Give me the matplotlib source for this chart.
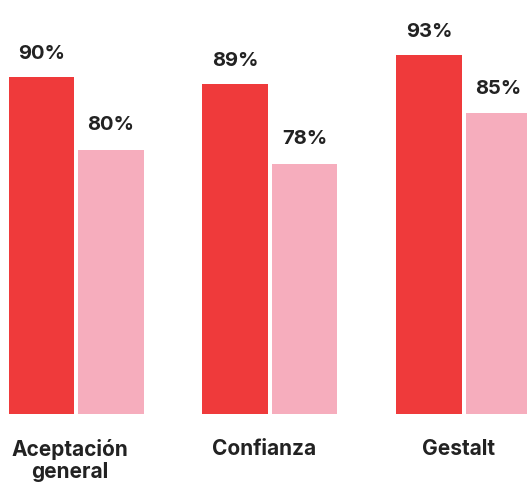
import numpy as np
import matplotlib
matplotlib.use('Agg')
import matplotlib.pyplot as plt

# data
categories = ['Aceptación\ngeneral', 'Confianza', 'Gestalt']
values_a = [90, 89, 93]   # red series
values_b = [80, 78, 85]   # pink series
labels_a = [f'{v}%' for v in values_a]
labels_b = [f'{v}%' for v in values_b]

RED = '#EF3A3B'
PINK = '#F6ADBD'
TEXT = '#222222'

plt.rcParams['font.family'] = ['Inter', 'DejaVu Sans']

fig = plt.figure(figsize=(5.27, 4.85), dpi=100)
ax = fig.add_axes([0.0, 0.1443, 1.0, 0.8443])

x = np.arange(len(categories))
width = 0.34
offset = 0.178

bars_a = ax.bar(x - offset, values_a, width, color=RED, zorder=2)
bars_b = ax.bar(x + offset, values_b, width, color=PINK, zorder=2)

for bar, lab in zip(bars_a, labels_a):
  ax.annotate(lab, (bar.get_x() + bar.get_width() / 2, bar.get_height()),
              xytext=(0, 13.7), textcoords='offset points',
              ha='center', va='baseline', fontsize=14.5, fontweight='bold', color=TEXT)
for bar, lab in zip(bars_b, labels_b):
  ax.annotate(lab, (bar.get_x() + bar.get_width() / 2, bar.get_height()),
              xytext=(0, 15), textcoords='offset points',
              ha='center', va='baseline', fontsize=14.5, fontweight='bold', color=TEXT)

ax.set_ylim(43.6, 100)
ax.set_xlim(-0.392, 2.325)

ax.set_xticks(x - 0.03)
ax.set_xticklabels(categories, fontsize=15, fontweight='bold', color=TEXT, linespacing=1.12)
ax.tick_params(axis='x', length=0, pad=17.5)
ax.set_yticks([])
for s in ax.spines.values():
  s.set_visible(False)

fig.savefig('out.png', dpi=100)
